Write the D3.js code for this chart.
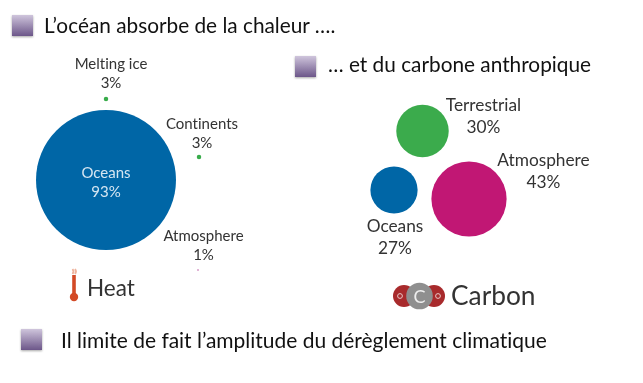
<!DOCTYPE html>
<html><head><meta charset="utf-8">
<style>html,body{margin:0;padding:0;background:#fff;overflow:hidden}svg{display:block;filter:blur(.4px)}text{font-variant-ligatures:none}</style>
<script src="https://cdn.jsdelivr.net/npm/d3@7"></script></head><body>
<script>
const heatCategories = ["Oceans","Melting ice","Continents","Atmosphere"];
const heatValues = [93,3,3,1];
const carbonCategories = ["Terrestrial","Oceans","Atmosphere"];
const carbonValues = [30,27,43];
const headings = ["L’océan absorbe de la chaleur ….","… et du carbone anthropique","Il limite de fait l’amplitude du dérèglement climatique"];

const W=643,H=383;
const svg=d3.select("body").append("svg").attr("width",W).attr("height",H);
const defs=svg.append("defs");
const g=defs.append("linearGradient").attr("id","sq").attr("x1",0).attr("y1",0).attr("x2",0).attr("y2",1);
g.append("stop").attr("offset",0).attr("stop-color","#cfc5dc");
g.append("stop").attr("offset",1).attr("stop-color","#6c5689");
const sh=defs.append("filter").attr("id","sh").attr("x","-20%").attr("y","-20%").attr("width","140%").attr("height","150%");
sh.append("feDropShadow").attr("dx",0).attr("dy",1).attr("stdDeviation",1).attr("flood-color","#000").attr("flood-opacity",.35);

// headings
const headPos=[{x:44,y:33,sx:12,sy:15,fs:20.8},{x:328,y:72,sx:295,sy:56,fs:20.8},{x:61,y:348,sx:21,sy:329,fs:20.97}];
headings.forEach((t,i)=>{
  const p=headPos[i];
  svg.append("rect").attr("x",p.sx).attr("y",p.sy).attr("width",21).attr("height",21).attr("fill","url(#sq)").attr("filter","url(#sh)");
  svg.append("text").attr("x",p.x).attr("y",p.y).attr("font-family","Lato").attr("font-size",p.fs).attr("fill","#111").text(t);
});

// scales
const rHeat=d3.scaleLinear().domain([0,93]).range([0,70]);
const rCarbon=d3.scaleLinear().domain([0,43]).range([0,37.6]);
const heatX=d3.scaleOrdinal(heatCategories,[106,106,199,198]);
const heatY=d3.scaleOrdinal(heatCategories,[180,99,157,270]);
const heatColor=d3.scaleOrdinal(heatCategories,["#0066a6","#39ac4b","#39ac4b","#b5489a"]);
const carbonX=d3.scaleOrdinal(carbonCategories,[422.5,394,469]);
const carbonY=d3.scaleOrdinal(carbonCategories,[131,190,199]);
const carbonColor=d3.scaleOrdinal(carbonCategories,["#3bab4c","#0066a6","#c11774"]);

svg.append("g").selectAll("circle").data(heatCategories).join("circle")
  .attr("cx",d=>heatX(d)).attr("cy",d=>heatY(d))
  .attr("r",(d,i)=>rHeat(heatValues[i])).attr("fill",d=>heatColor(d));
svg.append("g").selectAll("circle").data(carbonCategories).join("circle")
  .attr("cx",d=>carbonX(d)).attr("cy",d=>carbonY(d))
  .attr("r",(d,i)=>rCarbon(carbonValues[i])).attr("fill",d=>carbonColor(d));

function label(cx,y1,y2,name,val,size,fill){
  const f=svg.append("g").attr("font-family","Lato").attr("font-size",size).attr("text-anchor","middle").attr("fill",fill);
  f.append("text").attr("x",cx).attr("y",y1).text(name);
  f.append("text").attr("x",cx).attr("y",y2).text(val+"%");
}
const heatLabelX=d3.scaleOrdinal(heatCategories,[106,111,202,203.5]);
const heatLabelY=d3.scaleOrdinal(heatCategories,[178,69,129,241]);
heatCategories.forEach((c,i)=>label(heatLabelX(c),heatLabelY(c),heatLabelY(c)+19,c,heatValues[i],15,i?"#333":"#d5e6f2"));
const carbonLabelX=d3.scaleOrdinal(carbonCategories,[483.5,395,543.5]);
const carbonLabelY=d3.scaleOrdinal(carbonCategories,[111,232,166]);
carbonCategories.forEach((c,i)=>label(carbonLabelX(c),carbonLabelY(c),carbonLabelY(c)+22,c,carbonValues[i],17.3,"#333"));

// Heat icon
const th=svg.append("g");
th.append("path").attr("d","M72.5 274q2-2.500 0-5M75 274q2-2.500 0-5").attr("fill","none").attr("stroke","#eeb39c").attr("stroke-width",1.8);
th.append("line").attr("x1",74).attr("x2",74).attr("y1",275).attr("y2",296).attr("stroke","#d34a26").attr("stroke-width",3.6);
th.append("circle").attr("cx",74).attr("cy",297).attr("r",4.2).attr("fill","#d34a26");
svg.append("text").attr("x",87).attr("y",296).attr("font-family","Lato").attr("font-size",22.5).attr("fill","#333").text("Heat");

// Carbon icon
const co=svg.append("g");
[404,434].forEach(x=>co.append("circle").attr("cx",x).attr("cy",296).attr("r",11).attr("fill","#a82a2c"));
[400,438].forEach(x=>co.append("circle").attr("cx",x).attr("cy",296).attr("r",2.4).attr("fill","none").attr("stroke","#e8c8c8").attr("stroke-width",1));
co.append("circle").attr("cx",419.5).attr("cy",296).attr("r",13.3).attr("fill","#8f8f8f");
co.append("text").attr("x",419.5).attr("y",302.5).attr("font-family","Lato").attr("font-size",18).attr("text-anchor","middle").attr("fill","#eee").text("C");
svg.append("text").attr("x",451).attr("y",305).attr("font-family","Lato").attr("font-size",26.3).attr("fill","#333").text("Carbon");
</script></body></html>
